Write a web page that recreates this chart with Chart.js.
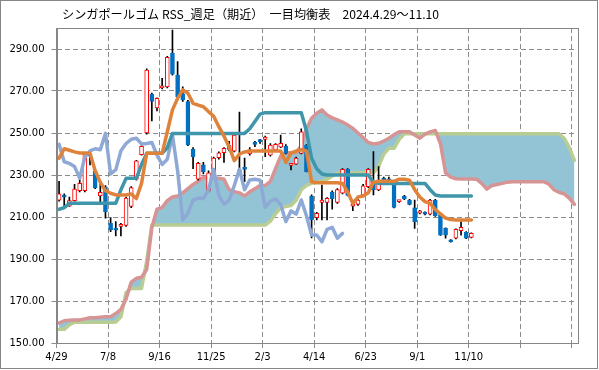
<!DOCTYPE html>
<html><head><meta charset="utf-8">
<script src="https://cdn.jsdelivr.net/npm/chart.js@4"></script>
<style>html,body{margin:0;padding:0;background:#fff;}</style>
</head><body>
<canvas id="c" width="599" height="370"></canvas>
<script>
const chartTitle = 'シンガポールゴム RSS_週足（期近）　一目均衡表　2024.4.29～11.10';
const xTickLabels = ['4/29','7/8','9/16','11/25','2/3','4/14','6/23','9/1','11/10','',''];
const xTickPositions = [-0.5,9.5,19.5,29.5,39.5,49.5,59.5,69.5,79.5,89.5,99.5];
const yTickValues = [150,170,190,210,230,250,270,290];

const openP = [218,220,215.2,217.8,222.5,222.5,239.5,232,220,224.4,
207,204.3,205.5,206,215,228,239.7,250,268.4,262,
271.5,272,288,277.6,268.6,265,242.4,228,234.8,222.5,
231.6,238.2,240.6,244.3,241.4,232.5,233,240,245,246.3,
247,239.5,241.9,243.2,243.8,234.6,235.2,240.3,244.3,220,
209.7,217,217,221.9,217,221.3,232.7,215.2,216,220.5,
224.4,226.8,222.9,228.4,228,225.7,217.3,220,218.1,214.4,
211.8,212.2,211.3,218.1,211,204.6,199,199.9,203.5,202.7,
200.3];
const highP = [227,221,219.5,225.5,228,240.5,240,233,226,225,
209.7,207.8,207,219.5,224.5,237,244,280.5,269,266.8,
276,286.5,299,284,272,265.5,243,236,236,232,
238.5,241,243,246,249.5,260,238,243,246,247,
248.5,245,245,249,244.5,235.2,238.5,252,244.5,220.5,
212.2,225.2,219.2,222.5,223.5,233,233,216.3,218.5,225.5,
233,241.1,234,229,229,226,217.9,220.3,218.4,218.1,
213.2,212.5,218.4,218.4,211.3,204.9,199.3,204.4,207.8,203,
202.5];
const lowP = [217.5,215,215,217.5,222,222,234.8,223.5,217,209.5,
203,201,201,205.5,214.5,227.5,239.5,249.5,255.7,260.5,
271,271.5,277.5,267,265,244,233,227.5,230.5,222,
231,237.5,236,241.5,241,230.5,226.8,239.5,243.5,245,
238.7,239,241.5,243,240,232.4,235,240,231.5,200,
208.6,208.6,208.6,213.7,216.5,221,220,213,215.5,220,
224,220.5,222.5,227,226,214.3,217,218.3,215.7,204.6,
211.5,211,211,210.3,201.2,199.9,198,199.6,201.4,199.7,
200];
const closeP = [221,219.5,217.8,223.3,226,240,239,224,221.8,212.5,
204,203.7,206,219,224,236.7,243.7,280,265,266.5,
272.3,286,278,267.3,265.7,244.3,238.7,235.6,231.6,231,
238,240.6,242.7,242.2,249,231.5,232.7,242,244.6,245.9,
248,244.3,244.6,245.1,240.3,235,238,250.6,231.6,208.6,
211.8,218.1,218.9,218.7,223,232.7,220.3,216,218.1,224.9,
232.7,222.9,227.6,227.6,227.2,214.6,217.6,218.6,216,207.8,
212.9,211.4,218.1,210.6,201.4,201.4,198.2,204.1,205.1,199.9,
202.2];
const tenkan = [238,242.5,241.8,241,240.5,240.5,240.3,232,226.5,222.5,
221.3,220.5,220.5,220.5,221,218.8,226,240.3,240.3,240.3,
240.3,250.6,261,266.5,270.5,268.9,264.1,263.3,262.5,260.2,
258,253,248.5,243.5,236.8,240,241,241.4,241.4,241.4,
241.4,241.4,241.4,241.4,236,240.5,241.4,242,241.4,226.8,
226.3,226.3,226.3,226.3,226.3,226,222,216.5,219.5,220,
221.5,226.5,227,227,227,227,228,228,227.5,223,
219.5,217.3,216.5,213.5,211.5,209.5,208.8,208.6,208.6,208.6,
208.6];
const kijun = [213.7,214.5,216.5,216.5,216.5,216.5,216.5,216.5,216.5,216.5,
216.5,216.5,223,228.4,228.4,228.4,235,240.3,240.3,240.3,
240.3,243,249.8,249.8,249.8,249.8,249.8,249.8,249.8,249.8,
249.8,249.8,249.8,249.8,249.8,249.8,249.8,252,255.5,259,
259.7,259.7,259.7,259.7,259.7,259.7,259.7,259.7,251,238,
233,230.5,230,230,230,230,230,230,230,230,
230,226.5,226,226,226,226,226,226,226,226,
226,226,223,220.5,220,220,220,220,220,220,
220];
const chikou = [244.6,236.3,235.5,234,228.5,238.5,241.5,242.5,242,249.8,
230.5,232.5,241.5,245,247,247.5,244.8,245,245.5,239.5,
235,237.5,249,232,208.6,211.8,218,219,218.7,223,
232.7,220.3,216,218,225,232.7,223,227.6,228,227.5,
214.6,217.6,218.6,216,207.8,212.9,211.4,218.1,210.6,201.4,
201.4,198.2,204.1,205.1,199.9,202.2];
const senkouA = [159.5,160.6,160.8,161,161,161.5,162,162,162.3,162.5,
162.5,164,166,171,179,180.8,181.3,185,205,213.7,
214.5,217.8,219.5,220,221.5,223.5,225.5,227,228.8,228.6,
228.6,228.5,228,223,222,221.5,220,222,223.5,225,
225,227,233,239,240.6,240.6,240.6,244,252,257,
259.4,261,258.6,257.2,256.2,255.2,253.8,252.2,250,247.8,
245.5,244.8,245.1,246.2,247.5,249.2,250.6,250.6,250.6,249,
247.5,249.5,250.5,251.2,245,231,229,228.2,228.1,228.1,
228.1,228,226,223.3,225,225.5,226,226.6,226.8,226.8,
226.8,226.8,226.8,226.8,226.8,225.8,223,221.8,221,219,
216];
const senkouB = [156.5,156.5,158.7,159.9,159.9,159.9,159.9,159.9,159.9,159.9,
159.9,160,162.5,174,176,176,176,189,206.2,206.2,
206.2,206.2,206.2,206.2,206.2,206.2,206.2,206.2,206.2,206.2,
206.2,206.2,206.2,206.2,206.2,206.2,206.2,206.2,206.2,206.2,
206.2,208,211.5,214.5,215,215.5,218,223,225,226,
226.5,227,228,229.5,231,231.1,231.1,231.1,231.1,231.1,
231.1,231.1,234,240,242.7,242.7,247,249.6,249.6,249.6,
249.6,249.6,249.6,249.6,249.6,249.6,249.6,249.6,249.6,249.6,
249.6,249.6,249.6,249.6,249.6,249.6,249.6,249.6,249.6,249.6,
249.6,249.6,249.6,249.6,249.6,249.6,249.6,249.6,247.5,243,
237];

const UP = '#FF0000', DOWN = '#0070C0';
const pts = arr => arr.map((v, i) => ({x: i, y: v}));
const isUp = closeP.map((c, i) => c >= openP[i]);

const framePlugin = {
  id: 'frame',
  beforeDraw(chart) {
    const ctx = chart.ctx;
    ctx.save(); ctx.fillStyle = '#fff'; ctx.fillRect(0, 0, chart.width, chart.height); ctx.restore();
  },
  afterDraw(chart) {
    const {ctx, chartArea: a} = chart;
    ctx.save();
    ctx.strokeStyle = '#868686'; ctx.lineWidth = 1;
    ctx.strokeRect(Math.round(a.left) + 0.5, Math.round(a.top) + 0.5, Math.round(a.right - a.left), Math.round(a.bottom - a.top));
    ctx.strokeRect(0.5, 0.5, 597, 368);
    ctx.font = '12px "Noto Sans CJK JP"';
    ctx.fillStyle = '#000'; ctx.textBaseline = 'middle'; ctx.textAlign = 'left';
    const w = ctx.measureText(chartTitle).width;
    ctx.translate(62, 14); ctx.scale(377 / w, 1);
    ctx.fillText(chartTitle, 0, 0);
    ctx.restore();
  }
};

const lineDs = (label, arr, color, order) => ({
  type: 'line', label, data: pts(arr), borderColor: color, borderWidth: 3.5,
  pointRadius: 0, tension: 0, fill: false, order, borderJoinStyle: 'round', borderCapStyle: 'round'
});

const dsA = lineDs('先行スパン1', senkouA, '#D69494', 10);
dsA.fill = '+1'; dsA.backgroundColor = '#93C4D6';
const dsB = lineDs('先行スパン2', senkouB, '#B9CD93', 11);

new Chart(document.getElementById('c'), {
  type: 'bar',
  data: {
    datasets: [
      dsA, dsB,
      {type: 'bar', label: 'wick', data: lowP.map((l, i) => ({x: i, y: [l, highP[i]]})),
       backgroundColor: '#000', borderWidth: 0, barThickness: 1, grouped: false, order: 8},
      {type: 'bar', label: 'body', data: openP.map((o, i) => ({x: i, y: [o, closeP[i]]})),
       backgroundColor: isUp.map(u => u ? '#FFFFFF' : DOWN), borderColor: isUp.map(u => u ? UP : DOWN),
       borderWidth: 1, borderSkipped: false, barThickness: 4, grouped: false, minBarLength: 2, order: 7},
      lineDs('遅行スパン', chikou, '#8FA9D6', 5),
      lineDs('基準線', kijun, '#3F96AA', 4),
      lineDs('転換線', tenkan, '#DF823A', 3)
    ]
  },
  options: {
    responsive: false, animation: false, devicePixelRatio: 1, events: [],
    layout: {padding: {top: 28, right: 22, bottom: 0, left: 0}},
    plugins: {legend: {display: false}, tooltip: {enabled: false}, title: {display: false},
      filler: {drawTime: 'beforeDatasetsDraw'}},
    scales: {
      x: {type: 'linear', min: -0.5, max: 100.5, offset: false,
        afterBuildTicks: s => { s.ticks = xTickPositions.map(v => ({value: v})); },
        afterFit: s => { s.height = 27; },
        ticks: {autoSkip: false, maxRotation: 0, padding: 3, color: '#000',
          font: {family: 'DejaVu Sans', size: 10},
          callback: (v, i) => xTickLabels[i]},
        grid: {offset: false, color: '#8c8c8c', tickLength: 5, lineWidth: 1},
        border: {display: true, color: '#868686', dash: [5, 3]}
      },
      y: {type: 'linear', min: 150, max: 300,
        afterBuildTicks: s => { s.ticks = yTickValues.map(v => ({value: v})); },
        afterFit: s => { s.width = 56.5; },
        ticks: {padding: 7, color: '#000', font: {family: 'DejaVu Sans', size: 10},
          callback: v => Number(v).toFixed(2)},
        grid: {color: '#8c8c8c', tickLength: 5, lineWidth: 1},
        border: {display: true, color: '#868686', dash: [5, 3]}
      }
    }
  },
  plugins: [framePlugin]
});
</script>
</body></html>
